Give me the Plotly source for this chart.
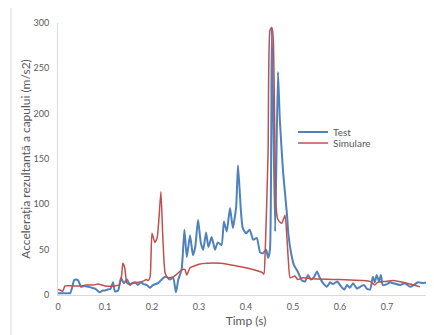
import plotly.graph_objects as go

# Test (masurat)
t_test = [0.000, 0.010, 0.020, 0.026, 0.030, 0.034, 0.038, 0.043, 0.049, 0.056,
          0.064, 0.072, 0.079, 0.089, 0.095, 0.100, 0.106, 0.112, 0.117, 0.121,
          0.128, 0.134, 0.140, 0.147, 0.153, 0.158, 0.164, 0.170, 0.176, 0.182,
          0.189, 0.196, 0.202, 0.213, 0.224, 0.231, 0.238, 0.245, 0.251, 0.256,
          0.263, 0.269, 0.274, 0.281, 0.287, 0.292, 0.298, 0.304, 0.309, 0.315,
          0.320, 0.327, 0.334, 0.340, 0.348, 0.353, 0.359, 0.366, 0.372, 0.379,
          0.383, 0.389, 0.393, 0.400, 0.408, 0.415, 0.423, 0.430, 0.436, 0.443,
          0.447, 0.451, 0.455, 0.462, 0.468, 0.472, 0.479, 0.487, 0.490, 0.496,
          0.502, 0.510, 0.519, 0.526, 0.532, 0.538, 0.545, 0.551, 0.557, 0.564,
          0.572, 0.579, 0.585, 0.594, 0.600, 0.609, 0.615, 0.621, 0.628, 0.636,
          0.643, 0.651, 0.657, 0.664, 0.670, 0.674, 0.678, 0.683, 0.687, 0.691,
          0.700, 0.706, 0.713, 0.728, 0.738, 0.749, 0.757, 0.766, 0.777, 0.787,
          0.796, 0.800]
a_test = [2, 2, 2, 2, 8, 16, 17, 16, 9, 10,
          9, 8, 7, 3, 5, 5, 6, 7, 14, 4,
          5, 19, 13, 17, 11, 13, 14, 11, 14, 12,
          11, 8, 11, 13, 19, 20, 17, 19, 3, 17,
          28, 72, 42, 66, 44, 53, 83, 57, 50, 69,
          53, 64, 50, 58, 55, 81, 70, 96, 74, 97,
          143, 94, 74, 68, 72, 61, 63, 47, 46, 50,
          41, 50, 294, 70, 246, 193, 135, 90, 68, 46,
          33, 26, 16, 15, 22, 17, 20, 26, 19, 13,
          9, 14, 12, 15, 11, 6, 11, 8, 13, 7,
          9, 11, 7, 6, 20, 14, 22, 15, 22, 11,
          12, 14, 13, 11, 13, 9, 11, 14, 13, 14,
          9, 5]

# Simulare
t_sim = [0.000, 0.006, 0.010, 0.015, 0.030, 0.050, 0.060, 0.075, 0.085, 0.100,
         0.120, 0.130, 0.135, 0.138, 0.142, 0.146, 0.150, 0.160, 0.170, 0.180,
         0.188, 0.192, 0.196, 0.200, 0.206, 0.211, 0.215, 0.219, 0.223, 0.228,
         0.234, 0.245, 0.255, 0.264, 0.270, 0.274, 0.281, 0.290, 0.300, 0.317,
         0.345, 0.360, 0.380, 0.409, 0.434, 0.438, 0.441, 0.447, 0.451, 0.455,
         0.458, 0.460, 0.464, 0.468, 0.476, 0.483, 0.487, 0.490, 0.494, 0.504,
         0.510, 0.521, 0.540, 0.600, 0.664, 0.674, 0.680, 0.696, 0.713, 0.742,
         0.764, 0.770]
a_sim = [6, 5, 4, 10, 10, 10, 11, 11, 12, 10,
         10, 11, 20, 35, 30, 14, 12, 13, 14, 15,
         17, 16, 20, 68, 58, 63, 86, 114, 64, 24,
         19, 20, 24, 28, 28, 22, 30, 32, 34, 35,
         35, 34, 32, 29, 25, 23, 50, 157, 292, 295,
         283, 229, 97, 83, 79, 88, 64, 39, 19, 21,
         17, 19, 18, 17, 15, 11, 14, 15, 16, 13,
         10, 9]

x_ticks = [0, 0.1, 0.2, 0.3, 0.4, 0.5, 0.6, 0.7, 0.8]
y_ticks = [0, 50, 100, 150, 200, 250, 300]

FONT = "Lato, 'Open Sans', sans-serif"
GRAY = "#595959"

fig = go.Figure()
fig.add_trace(go.Scatter(x=t_test, y=a_test, name="Test", mode="lines", legend="legend",
                         line=dict(color="#4f81bd", width=2, shape="spline", smoothing=0.5)))
fig.add_trace(go.Scatter(x=t_sim, y=a_sim, name="Simulare", mode="lines", legend="legend2",
                         line=dict(color="#c0504d", width=1.5, shape="spline", smoothing=0.5)))

# chenarul graficului (iese din fereastra in dreapta si jos)
fig.add_shape(type="rect", xref="paper", yref="paper",
              x0=-0.125, x1=1.2, y0=-0.3, y1=1.0588,
              line=dict(color="#d9d9d9", width=1), layer="below")

leg = dict(xanchor="left", yanchor="middle", font=dict(size=10, color=GRAY),
           itemwidth=30, bgcolor="rgba(0,0,0,0)")

fig.update_layout(
    width=440, height=327,
    margin=dict(l=50, r=14, t=15, b=40),
    showlegend=True,
    plot_bgcolor="white", paper_bgcolor="white",
    font=dict(family=FONT, color=GRAY, size=9),
    legend=dict(x=0.625, y=0.599, **leg),
    legend2=dict(x=0.625, y=0.559, **leg),
    xaxis=dict(range=[0, 0.8], tickvals=x_ticks, ticktext=[str(v) for v in x_ticks],
               showgrid=False, zeroline=False, showline=True, linecolor="#d9d9d9",
               ticks="", automargin=False, ticklabelstandoff=3, ticklabeloverflow="allow",
               title=dict(text="Timp (s)", font=dict(size=12, color=GRAY), standoff=5)),
    yaxis=dict(range=[0, 300], tickvals=y_ticks, showgrid=False, zeroline=False,
               showline=True, linecolor="#d9d9d9", ticks="", automargin=False,
               ticklabelstandoff=6,
               title=dict(text="Accelerația rezultantă a capului (m/s2)",
                          font=dict(size=12, color=GRAY), standoff=0)),
)

fig.write_html("out.html")
